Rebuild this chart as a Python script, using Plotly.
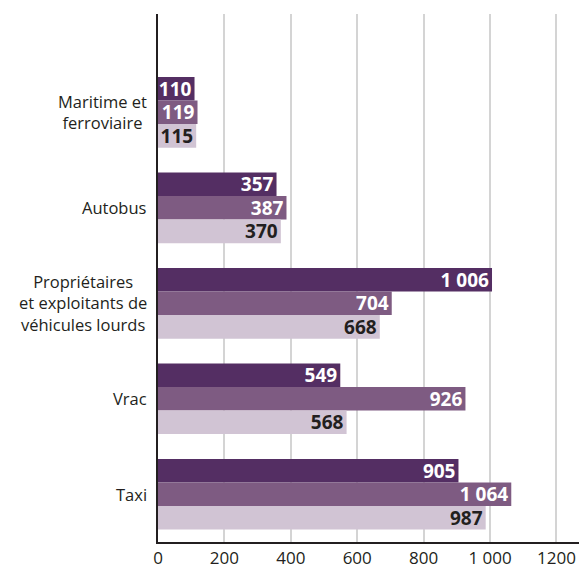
import plotly.graph_objs as go

categories = ["Maritime et<br>ferroviaire", "Autobus",
              "Propriétaires<br>et exploitants de<br>véhicules lourds", "Vrac", "Taxi"]
series_a = [110, 357, 1006, 549, 905]
series_b = [119, 387, 704, 926, 1064]
series_c = [115, 370, 668, 568, 987]
tick_vals = [0, 200, 400, 600, 800, 1000, 1200]
tick_text = ["0", "200", "400", "600", "800", "1 000", "1200"]

colors = ["#542e63", "#7e5b82", "#d1c4d4"]
text_colors = ["white", "white", "#231f20"]


def fmt(v):
    # French thousands separator
    return f"{v:,}".replace(",", " ")


fig = go.Figure()
for vals, col, tcol in zip([series_a, series_b, series_c], colors, text_colors):
    fig.add_trace(go.Bar(
        x=vals, y=categories, orientation='h',
        marker=dict(color=col, line=dict(width=0)),
        text=[fmt(v) for v in vals], textposition='inside',
        insidetextanchor='end', textangle=0, constraintext='none',
        textfont=dict(family="Open Sans", size=19, color=tcol, weight="bold"),
        cliponaxis=False, showlegend=False))

# category labels as annotations so multi-line text is centred
for cat in categories:
    fig.add_annotation(x=0, xref="paper", y=cat, yref="y", text=cat,
                       showarrow=False, xanchor="right", align="center",
                       xshift=-9, font=dict(family="Open Sans", size=16.5, color="#231f20"))

fig.update_layout(
    barmode='group', bargap=0.26, bargroupgap=0,
    width=579, height=569,
    margin=dict(l=158, r=0, t=14, b=24),
    plot_bgcolor="white", paper_bgcolor="white",
    font=dict(family="Open Sans", size=17, color="#231f20"),
)
fig.update_xaxes(range=[0, 1268], tickvals=tick_vals, ticktext=tick_text,
                 showgrid=True, gridcolor="#d4d4d4", gridwidth=2,
                 showline=True, linecolor="#231f20", linewidth=2,
                 zeroline=False, ticks="", tickfont=dict(size=17))
fig.update_yaxes(autorange=False, range=[4.5, -1.03], showticklabels=False,
                 showline=True, linecolor="#231f20", linewidth=2,
                 showgrid=False, ticks="")

fig.write_html("out.html", config={"displayModeBar": False},
               post_script="document.body.style.margin='0';")
